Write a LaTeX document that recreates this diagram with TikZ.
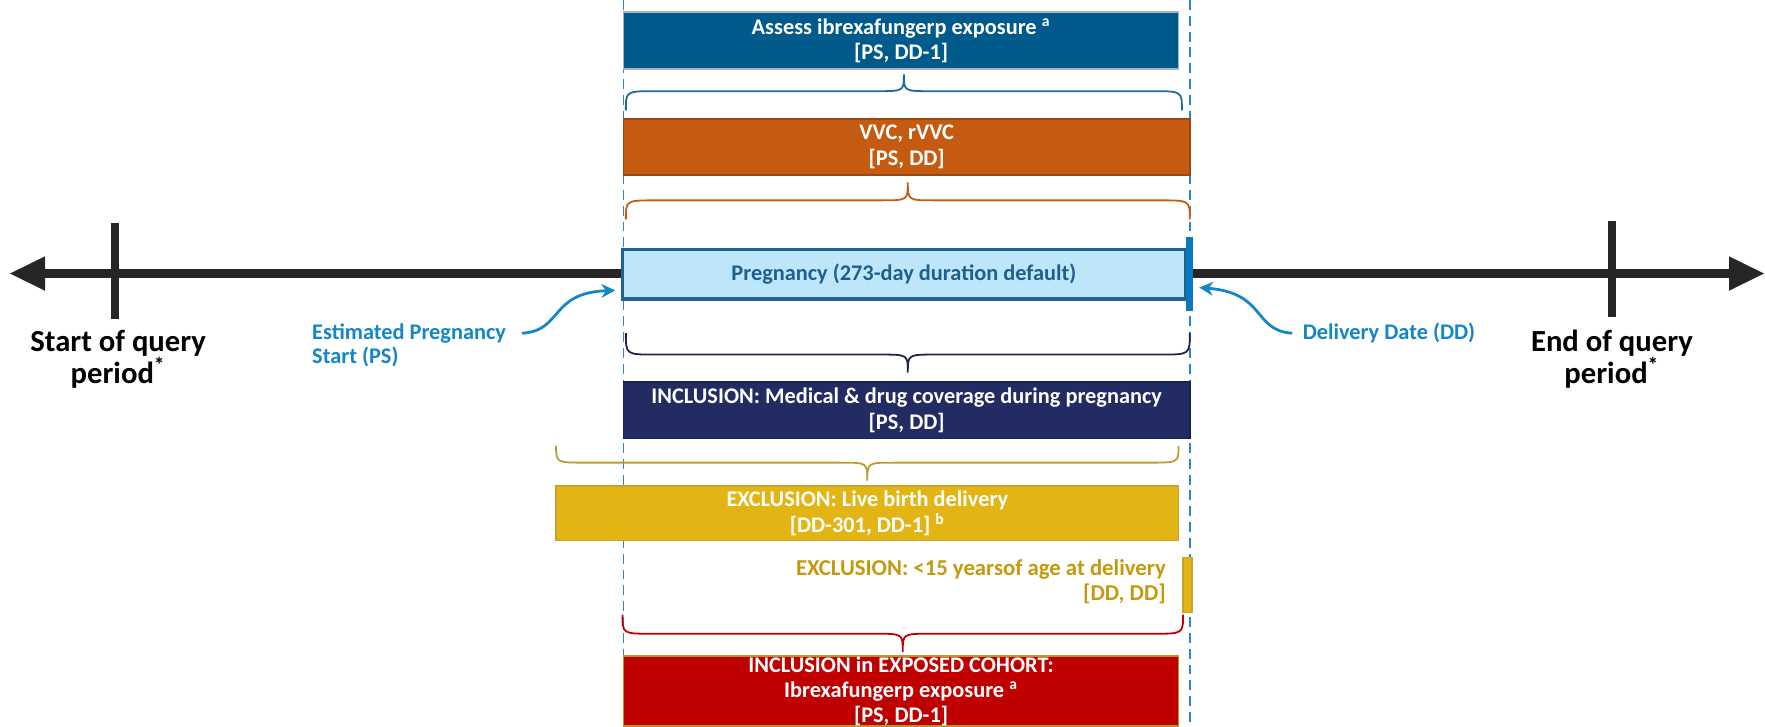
\documentclass[tikz,border=0pt]{standalone}
\usepackage{xcolor}
\usepackage{fontspec}
\setmainfont{Carlito}
\usepackage{tikz}
\usetikzlibrary{arrows.meta,calc}

\definecolor{assessfill}{HTML}{005A8B}
\definecolor{assessedge}{HTML}{A0B4C4}
\definecolor{braceblue}{HTML}{1C6A9C}
\definecolor{vvcfill}{HTML}{C55A11}
\definecolor{vvcedge}{HTML}{9A4710}
\definecolor{pregfill}{HTML}{BEE6FA}
\definecolor{pregedge}{HTML}{1F6391}
\definecolor{pregtext}{HTML}{1F5F8C}
\definecolor{ddblue}{HTML}{0A78BE}
\definecolor{lblblue}{HTML}{1485C6}
\definecolor{guideblue}{HTML}{2B87CB}
\definecolor{inclfill}{HTML}{232B63}
\definecolor{inclbrace}{HTML}{1E2450}
\definecolor{goldfill}{HTML}{E2B514}
\definecolor{goldedge}{HTML}{C8A22A}
\definecolor{goldbrace}{HTML}{BF9A2C}
\definecolor{goldtext}{HTML}{C49A0C}
\definecolor{cohortfill}{HTML}{C00000}
\definecolor{cohortedge}{HTML}{B8952A}
\definecolor{tlgray}{HTML}{262626}

\begin{document}
\begin{tikzpicture}[x=0.02cm, y=-0.02cm,
    box/.style={rectangle, draw, line width=0.8pt, inner sep=0pt, align=center, text=white, font=\fontsize{11.3}{12.8}\selectfont\bfseries},
    endlbl/.style={align=center, inner sep=0pt, text=black, font=\fontsize{15.5}{16}\selectfont\bfseries},
    datelbl/.style={inner sep=0pt, text=lblblue, font=\fontsize{11.3}{12.5}\selectfont\bfseries},
    pointer/.style={lblblue, line width=1.4pt, -{Stealth[length=7pt,width=7pt]}},
    guide/.style={guideblue, line width=0.7pt, dash pattern=on 5pt off 3pt},
]
\useasboundingbox (0,0) rectangle (1568,645);

% Dashed guides at PS and DD
\draw[guide] (554,0) -- (554,645);
\draw[guide] (1057,0) -- (1057,645);

% Timeline
\coordinate (tlstart) at (8,243);
\coordinate (tlend) at (1568,243);
\draw[tlgray, line width=0.16cm, {Triangle[length=0.64cm,width=0.56cm]}-{Triangle[length=0.64cm,width=0.56cm]}] (tlstart) -- (tlend);
\draw[tlgray, line width=0.14cm] (102,198) -- (102,283);
\draw[tlgray, line width=0.14cm] (1432,196) -- (1432,282);

% Boxes
\node[box, fill=assessfill, draw=assessedge, minimum width=9.86cm, minimum height=1.02cm] (assess) at (800.5,36) {Assess ibrexafungerp exposure \textsuperscript{a}\\{[PS, DD-1]}};
\node[box, fill=vvcfill, draw=vvcedge, minimum width=10.06cm, minimum height=1.0cm] (vvc) at (805.5,130.5) {VVC, rVVC\\{[PS, DD]}};
\node[box, fill=pregfill, draw=pregedge, line width=1.7pt, text=pregtext, minimum width=10.0cm, minimum height=0.88cm] (preg) at (803,243.5) {Pregnancy (273-day duration default)};
\node[rectangle, fill=ddblue, inner sep=0pt, minimum width=0.12cm, minimum height=1.32cm] (ddbar) at (1057,243.5) {};
\node[box, fill=inclfill, draw=inclfill!80!black, minimum width=10.06cm, minimum height=1.0cm] (incl) at (805.5,364.5) {INCLUSION: Medical \& drug coverage during pregnancy\\{[PS, DD]}};
\node[box, fill=goldfill, draw=goldedge, minimum width=11.06cm, minimum height=0.96cm] (excl) at (770.5,456) {EXCLUSION: Live birth delivery\\{[DD-301, DD-1]} \textsuperscript{b}};
\node[rectangle, fill=goldfill, draw=goldedge, line width=0.6pt, inner sep=0pt, minimum width=0.16cm, minimum height=0.98cm] (agebar) at (1055,519.5) {};
\node[box, fill=cohortfill, draw=cohortedge, minimum width=9.86cm, minimum height=1.24cm] (cohort) at (800.5,614) {INCLUSION in EXPOSED COHORT:\\Ibrexafungerp exposure \textsuperscript{a}\\{[PS, DD-1]}};

% Braces
\foreach \col/\xa/\xb/\ye/\yf/\yc in {braceblue/556/1050/98/81/66, vvcfill/556/1057/195/178/162, inclbrace/556/1057/296/315/331, goldbrace/494/1047/396/411/427, cohortfill/553/1051/546/563/579} {
    \draw[\col, line width=0.9pt] (\xa,\ye) .. controls (\xa,\yf) .. ({\xa+26},\yf) -- ({(\xa+\xb)/2-24},\yf) .. controls ({(\xa+\xb)/2},\yf) .. ({(\xa+\xb)/2},\yc) .. controls ({(\xa+\xb)/2},\yf) .. ({(\xa+\xb)/2+24},\yf) -- ({\xb-26},\yf) .. controls (\xb,\yf) .. (\xb,\ye);
}

% Age exclusion text
\node[anchor=east, align=right, inner sep=0pt, text=goldtext, font=\fontsize{11.5}{12.8}\selectfont\bfseries] (agetext) at (1036,517) {EXCLUSION: <15 yearsof age at delivery\\{[DD, DD]}};

% Query period labels
\node[endlbl] (qstart) at (105,319) {Start of query\\period\textsuperscript{*}};
\node[endlbl] (qend) at (1432,319) {End of query\\period\textsuperscript{*}};

% Date labels and pointers
\node[datelbl, anchor=north west, align=left] (ps) at (277,287) {Estimated Pregnancy\\Start (PS)};
\node[datelbl, anchor=west] (dd) at (1157,296) {Delivery Date (DD)};
\draw[pointer] ([shift={(14,9)}]ps.north east) .. controls (500,294) and (488,260) .. ([shift={(-5,-9)}]preg.south west);
\draw[pointer] ([shift={(-9,0)}]dd.west) .. controls (1113,294) and (1125,260) .. ([shift={(5,12)}]ddbar.east);

\end{tikzpicture}
\end{document}
